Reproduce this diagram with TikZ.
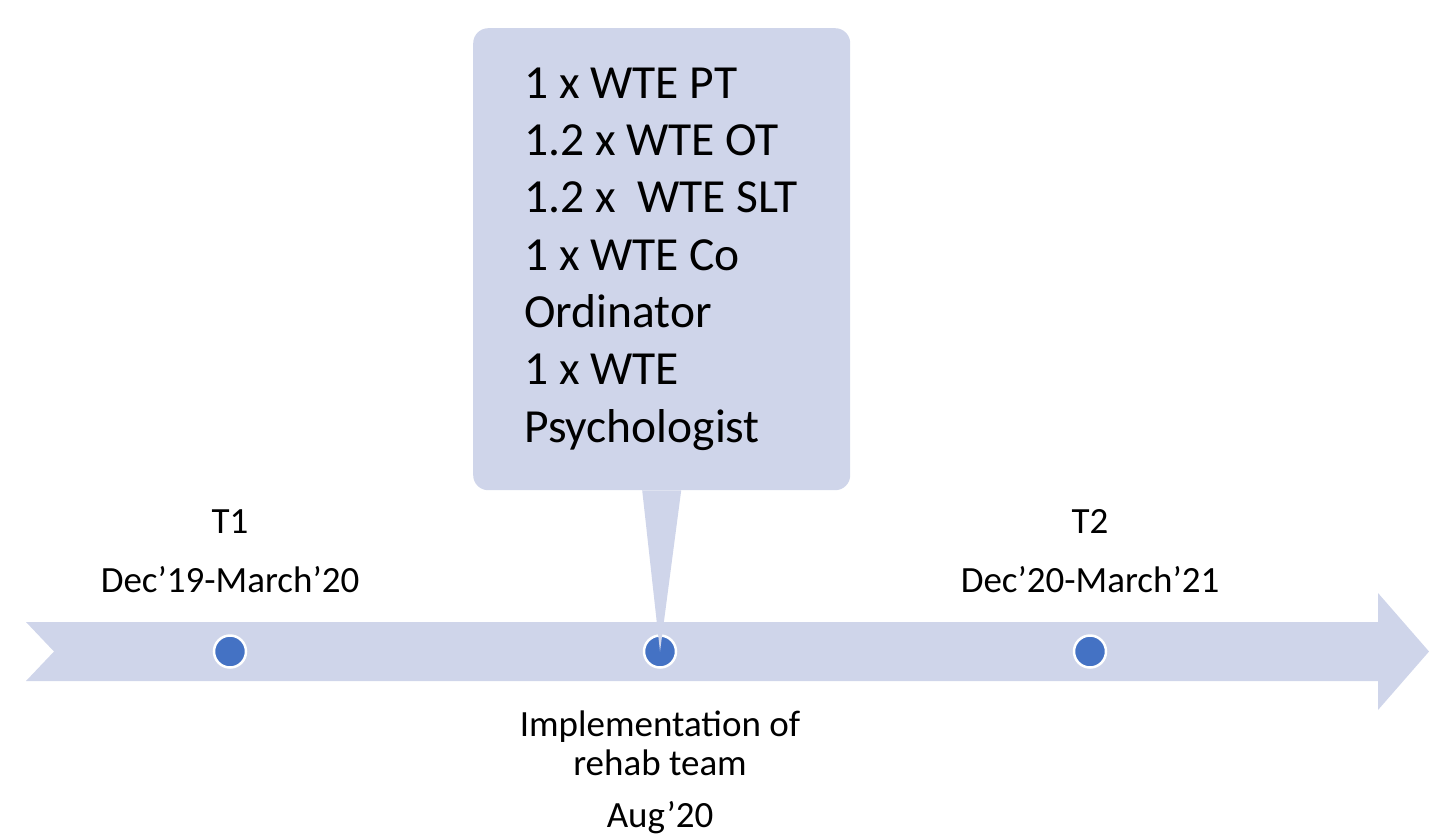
\documentclass[tikz,border=0pt]{standalone}
\usepackage{fontspec}
\setmainfont{Carlito}
\definecolor{band}{HTML}{CFD5EA}
\definecolor{dotblue}{HTML}{4472C4}
\begin{document}
\begin{tikzpicture}[x=1pt,y=-1pt,
  dotnode/.style={circle,fill=dotblue,draw=white,line width=2.5pt,minimum size=32pt,inner sep=0pt},
  lbl/.style={inner sep=0pt,font=\fontsize{37}{39}\selectfont,align=center},
  boxtext/.style={inner sep=0pt,font=\fontsize{47.5}{57.3}\selectfont,align=left}]
\useasboundingbox (0,0) rectangle (1429,836);
% timeline band
\fill[band] (26,622) -- (1378,622) -- (1378,593) -- (1429,651.5) -- (1378,710) -- (1378,681) -- (26,681) -- (54,651.5) -- cycle;
% callout box
\node[fill=band,rounded corners=15pt,minimum width=377pt,minimum height=462pt,inner sep=0pt,anchor=north west] (box) at (473,28) {};
% dots
\node[dotnode] (d1) at (230,651.5) {};
\node[dotnode] (d2) at (660,651.5) {};
\node[dotnode] (d3) at (1090,651.5) {};
% pointer
\fill[band] ([xshift=-19.5pt]box.south) -- (d2.center) -- ([xshift=19.5pt]box.south) -- cycle;
% callout text (base = last line)
\node[boxtext,anchor=base west] (bt) at (524,442) {1 x WTE PT\\1.2 x WTE OT\\1.2 x\ \ WTE SLT\\1 x WTE Co\\Ordinator\\1 x WTE\\Psychologist};
% labels
\node[lbl,anchor=base] (t1) at (230,533) {T1};
\node[lbl,anchor=base] (t1d) at (230,592) {Dec’19-March’20};
\node[lbl,anchor=base] (t2) at (1090,533) {T2};
\node[lbl,anchor=base] (t2d) at (1090,592) {Dec’20-March’21};
\node[lbl,anchor=base] (imp) at (660,775) {Implementation of\\rehab team};
\node[lbl,anchor=base] (aug) at (660,827) {Aug’20};
\end{tikzpicture}
\end{document}
